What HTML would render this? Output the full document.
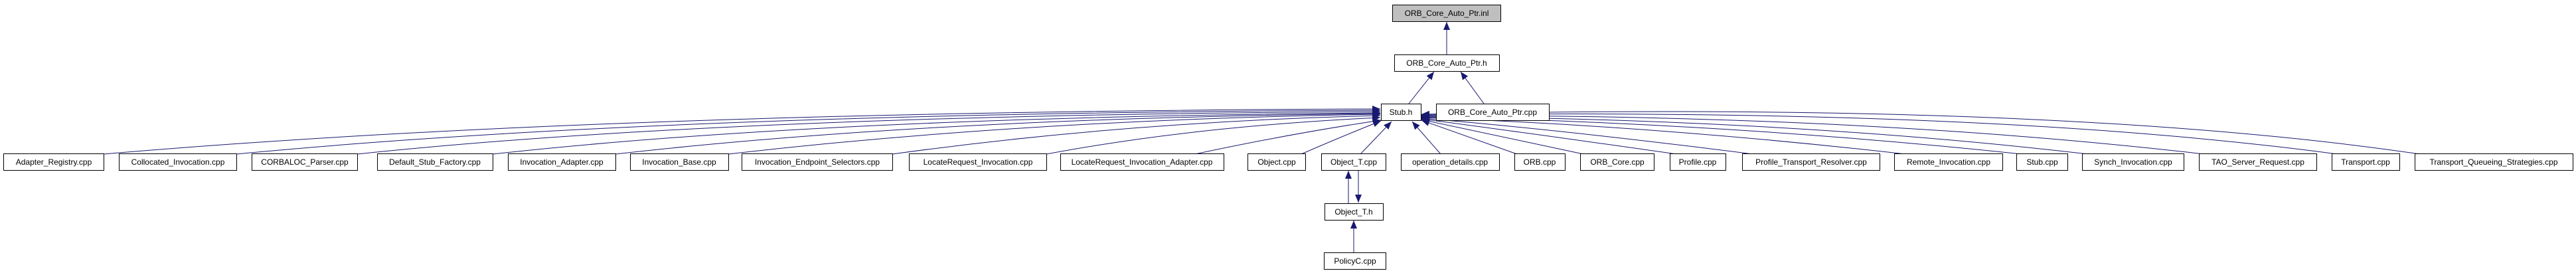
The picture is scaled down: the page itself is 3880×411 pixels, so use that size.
<!DOCTYPE html>
<html><head><meta charset="utf-8"><style>
html,body{margin:0;padding:0;background:#fff;}
svg{display:block;}
text{font-family:"Liberation Sans",sans-serif;font-size:12px;fill:#000;}
</style></head><body>
<svg width="3880" height="411" viewBox="0 0 3880 411" xmlns="http://www.w3.org/2000/svg">
<defs>
<marker id="a" viewBox="0 0 12 10" refX="12" refY="5" markerWidth="12" markerHeight="10" markerUnits="userSpaceOnUse" orient="auto">
<path d="M0,0 L12,5 L0,10 z" fill="#191970"/>
</marker>
</defs>
<g stroke="#191970" stroke-width="1" fill="none" marker-end="url(#a)">
<line x1="2179" y1="82" x2="2179" y2="33"/>
<line x1="2122" y1="156" x2="2160" y2="108"/>
<line x1="2235" y1="156" x2="2200" y2="108"/>
<path d="M156,232 Q900,168 2079,164"/>
<path d="M356,232 Q1000,170 2079,166"/>
<path d="M538,232 Q1100,173 2079,168"/>
<path d="M742,232 Q1250,176 2079,170"/>
<path d="M927,232 Q1400,178 2079,171"/>
<path d="M1097,232 Q1550,180 2079,172"/>
<path d="M1344,232 Q1700,183 2079,174"/>
<path d="M1576,232 Q1800,190 2079,177"/>
<path d="M1800,232 Q1950,200 2080,181"/>
<path d="M1960,232 Q2010,210 2080,182"/>
<path d="M2049,232 L2096,183"/>
<path d="M2170,232 L2127,183"/>
<path d="M2285,232 L2141,181"/>
<path d="M2385,232 L2141,180"/>
<path d="M2525,232 Q2300,200 2141,179"/>
<path d="M2640,232 Q2350,195 2141,178"/>
<path d="M2870,232 Q2500,190 2141,177"/>
<path d="M3045,232 Q2600,185 2141,176"/>
<path d="M3145,232 Q2700,180 2141,175"/>
<path d="M3320,232 Q2800,172 2141,174"/>
<path d="M3520,232 Q3000,162 2141,173"/>
<path d="M3645,232 Q3100,152 2141,172"/>
<line x1="2031" y1="306" x2="2031" y2="257"/>
<line x1="2046" y1="257" x2="2046" y2="305"/>
<line x1="2039" y1="380" x2="2039" y2="332"/>
</g>
<g stroke="#000" stroke-width="1" fill="#fff">
<rect x="2097.5" y="7.5" width="163" height="25" fill="#bfbfbf"/>
<rect x="2100.5" y="82.5" width="158" height="25"/>
<rect x="2080.5" y="156.5" width="60" height="25"/>
<rect x="2163.5" y="156.5" width="170" height="25"/>
<rect x="5.5" y="231.5" width="151" height="25"/>
<rect x="179.5" y="231.5" width="177" height="25"/>
<rect x="379.5" y="231.5" width="159" height="25"/>
<rect x="568.5" y="231.5" width="174" height="25"/>
<rect x="765.5" y="231.5" width="162" height="25"/>
<rect x="949.5" y="231.5" width="148" height="25"/>
<rect x="1117.5" y="231.5" width="227" height="25"/>
<rect x="1369.5" y="231.5" width="207" height="25"/>
<rect x="1597.5" y="231.5" width="246" height="25"/>
<rect x="1879.5" y="231.5" width="87" height="25"/>
<rect x="1990.5" y="231.5" width="97" height="25"/>
<rect x="2110.5" y="231.5" width="148" height="25"/>
<rect x="2281.5" y="231.5" width="76" height="25"/>
<rect x="2380.5" y="231.5" width="111" height="25"/>
<rect x="2515.5" y="231.5" width="84" height="25"/>
<rect x="2624.5" y="231.5" width="207" height="25"/>
<rect x="2853.5" y="231.5" width="163" height="25"/>
<rect x="3037.5" y="231.5" width="77" height="25"/>
<rect x="3136.5" y="231.5" width="153" height="25"/>
<rect x="3312.5" y="231.5" width="177" height="25"/>
<rect x="3512.5" y="231.5" width="102" height="25"/>
<rect x="3637.5" y="231.5" width="238" height="25"/>
<rect x="1995.5" y="306.5" width="88" height="25"/>
<rect x="1994.5" y="380.5" width="93" height="25"/>
</g>
<g text-anchor="middle">
<text x="2179" y="24">ORB_Core_Auto_Ptr.inl</text>
<text x="2179" y="99">ORB_Core_Auto_Ptr.h</text>
<text x="2110" y="173">Stub.h</text>
<text x="2248" y="173">ORB_Core_Auto_Ptr.cpp</text>
<text x="81" y="248">Adapter_Registry.cpp</text>
<text x="268" y="248">Collocated_Invocation.cpp</text>
<text x="459" y="248">CORBALOC_Parser.cpp</text>
<text x="655" y="248">Default_Stub_Factory.cpp</text>
<text x="846" y="248">Invocation_Adapter.cpp</text>
<text x="1023" y="248">Invocation_Base.cpp</text>
<text x="1231" y="248">Invocation_Endpoint_Selectors.cpp</text>
<text x="1473" y="248">LocateRequest_Invocation.cpp</text>
<text x="1720" y="248">LocateRequest_Invocation_Adapter.cpp</text>
<text x="1923" y="248">Object.cpp</text>
<text x="2039" y="248">Object_T.cpp</text>
<text x="2184" y="248">operation_details.cpp</text>
<text x="2319" y="248">ORB.cpp</text>
<text x="2436" y="248">ORB_Core.cpp</text>
<text x="2557" y="248">Profile.cpp</text>
<text x="2728" y="248">Profile_Transport_Resolver.cpp</text>
<text x="2935" y="248">Remote_Invocation.cpp</text>
<text x="3076" y="248">Stub.cpp</text>
<text x="3213" y="248">Synch_Invocation.cpp</text>
<text x="3401" y="248">TAO_Server_Request.cpp</text>
<text x="3563" y="248">Transport.cpp</text>
<text x="3756" y="248">Transport_Queueing_Strategies.cpp</text>
<text x="2039" y="323">Object_T.h</text>
<text x="2041" y="397">PolicyC.cpp</text>
</g>
</svg>
</body></html>
